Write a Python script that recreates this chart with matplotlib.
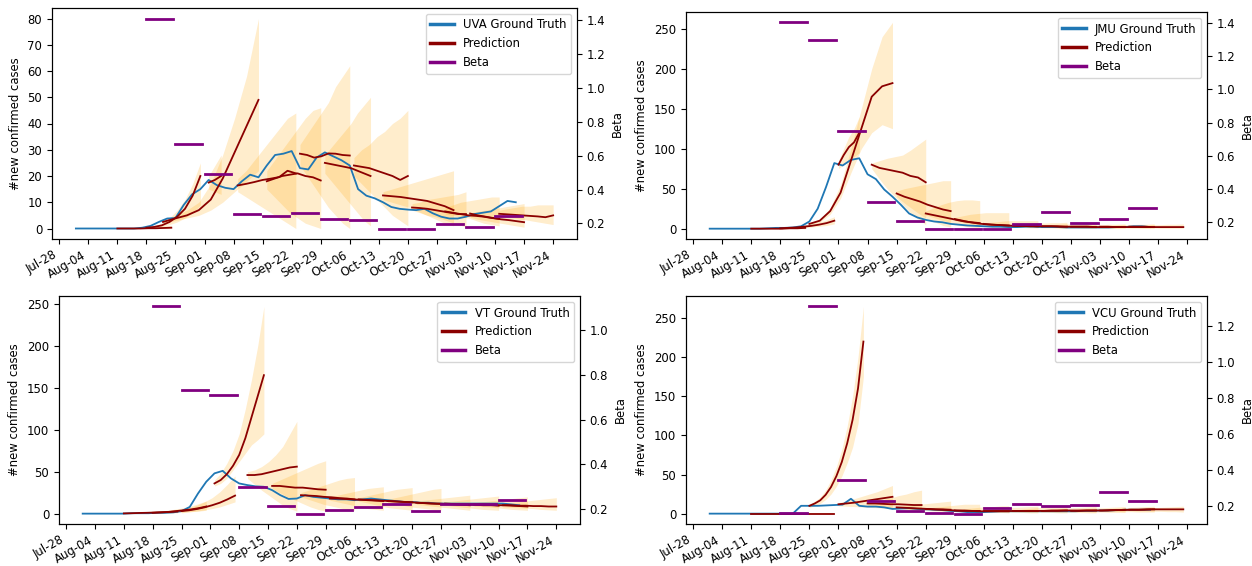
import numpy as np
import pandas as pd
import matplotlib
matplotlib.use('Agg')
import matplotlib.pyplot as plt
import matplotlib.dates as mdates
from matplotlib.lines import Line2D

YEAR = '2020-'
GT_START = '2020-08-01'   # ground truth values are every 2 days from here

# beta is one value per week, same weeks for all four schools
beta_start = ['08-18', '08-25', '09-01', '09-08', '09-15', '09-22', '09-29',
              '10-06', '10-13', '10-20', '10-27', '11-03', '11-10']

# ---------------- UVA ----------------
uva_gt = [0, 0, 0, 0, 0, 0, 0, 0, 0.3,
          1, 2.5, 3.8, 4, 9, 13, 15,
          18.5, 16.5, 15.5, 15, 18, 20.5, 19.5, 24, 28, 28.5, 29.5, 23, 22.5, 27, 29,
          27.5, 26, 24, 15, 12.5, 11.5, 10, 8.2, 7.5, 7.2, 7, 7.5, 5.8, 4.5, 3.8,
          3.8, 4.5, 5.5, 6, 6.5, 8.5, 10.5, 10]
uva_pred_start = ['08-11', '08-18', '08-22', '09-02', '09-09', '09-16', '09-24',
                  '09-30', '10-07', '10-14', '10-21', '10-29', '11-04', '11-11']
uva_pred_end = ['08-24', '08-31', '09-14', '09-05', '09-23', '09-29', '10-06',
                '10-11', '10-20', '10-31', '11-03', '11-11', '11-17', '11-24']
uva_pred = [
    [0, 0, 0, 0, 0.1, 0.1, 0.2, 0.3],
    [0.3, 0.6, 1.2, 2.5, 4.5, 7.5, 12.5, 20],
    [2.5, 3.8, 5, 7, 11, 19, 29, 39, 49],
    [17.5, 18.5, 20],
    [16.4, 17, 17.7, 18.5, 19, 19.6, 22, 21],
    [18, 19, 20, 20.5, 21, 20, 19.5, 18.3],
    [28.5, 28, 27, 27.5, 28.6, 28.5, 28, 27.8],
    [25, 24.5, 24, 23.5, 23, 22, 21, 20],
    [24, 23.5, 23, 22, 21, 20, 18.5, 20],
    [12.6, 12.3, 12, 11.5, 11, 10.5, 9.5, 8.5, 7],
    [8, 7.8, 7.5, 7, 6.5, 6, 5.5, 5.5],
    [6.5, 6, 5.5, 5, 4.8, 4.5, 4, 3.7],
    [5.7, 5, 4.5, 4, 3.5, 3.2, 2.8, 2.4],
    [5.6, 5.4, 5.2, 5, 4.8, 4.6, 4.3, 5],
]
uva_lo = [
    [0, 0, 0, 0, 0, 0, 0.1, 0.2],
    [0.2, 0.4, 0.8, 1.5, 2.5, 4, 6, 9],
    [2, 3, 4, 5, 7, 10, 14, 18, 22],
    [15, 14, 13],
    [14, 12, 10, 8, 6, 4, 2, 0],
    [15, 12, 9, 6, 4, 2, 1, 0],
    [24, 20, 16, 12, 8, 5, 2, 0],
    [21, 18, 15, 12, 9, 6, 3, 1],
    [20, 17, 14, 11, 8, 5, 3, 1],
    [11, 10, 9, 8, 6.5, 5, 3.5, 2, 1],
    [7, 6, 5, 4.5, 3.5, 2.5, 1.5, 0.5],
    [5.5, 5, 4.5, 4, 3, 2, 1.5, 1],
    [4.3, 3.5, 3, 2.5, 2, 1.5, 1, 0.5],
    [5, 4.5, 4, 3.5, 3, 2.5, 2, 1.5],
]
uva_hi = [
    [0.2, 0.3, 0.4, 0.5, 0.6, 0.8, 1, 1.2],
    [0.5, 1, 2, 4, 7, 11, 17, 25],
    [3, 5, 7, 10, 17, 28, 42, 58, 80],
    [20, 24, 28],
    [19, 22, 26, 30, 34, 38, 42, 44],
    [22, 26, 30, 34, 38, 42, 45, 46],
    [32, 36, 40, 44, 48, 54, 58, 62],
    [28, 31, 34, 37, 40, 44, 47, 50],
    [27, 30, 32, 35, 37, 40, 42, 45],
    [14, 15, 16, 17, 18, 19, 20, 21, 22],
    [9.5, 10, 11, 11.5, 12, 12.5, 13, 14],
    [8, 9, 10, 10.5, 11, 11.5, 12, 12],
    [6, 6.5, 7, 7.5, 8, 8.5, 9, 9.5],
    [7, 7.5, 8, 8.5, 8.5, 9, 9, 9],
]
uva_beta = [1.41, 0.668, 0.49, 0.258, 0.246, 0.264, 0.227, 0.22, 0.17, 0.17, 0.194, 0.176, 0.245]

# ---------------- JMU ----------------
jmu_gt = [0, 0, 0, 0, 0, 0, 0, 0.5, 1, 1, 1.5,
          3, 9, 25, 52, 82,
          79, 86, 88, 68, 62, 49, 40, 30, 19, 14, 11, 9, 8, 6, 5,
          4, 3.5, 3, 2.5, 2.5, 2, 2, 2.5, 2.5, 2, 2, 2, 1.5, 1.5, 1.5,
          1.5, 1.5, 1.5, 2, 2, 3, 3, 2]
jmu_pred_start = ['08-11', '08-18', '08-25', '09-01', '09-09', '09-15', '09-22',
                  '09-29', '10-06', '10-13', '10-20', '10-27', '11-03', '11-10']
jmu_pred_end = ['08-24', '08-31', '09-14', '09-06', '09-22', '09-28', '10-05',
                '10-12', '10-19', '10-26', '11-02', '11-09', '11-16', '11-23']
jmu_pred = [
    [0, 0, 0, 0, 0, 0.5, 0.5, 1],
    [0.5, 1, 1.5, 2.5, 3.5, 5, 7, 10],
    [6, 10, 22, 45, 85, 125, 165, 178, 182],
    [80, 92, 102, 108, 120],
    [80, 76, 74, 72, 70, 66, 64, 58],
    [44, 40, 37, 34, 30, 27, 24, 22],
    [19, 17, 15, 13, 11, 9, 8, 7],
    [12, 10, 8, 6.5, 5.5, 5, 4.5, 4],
    [6, 5, 4.5, 4, 3.5, 3.5, 3, 3],
    [4, 3.5, 3.5, 3, 3, 3, 2.5, 2.5],
    [3, 3, 3, 2.5, 2.5, 2.5, 2.5, 2],
    [2.5, 2.5, 2.5, 2, 2, 2, 2, 2],
    [2.5, 2.5, 2, 2, 2, 2, 2, 2],
    [2.5, 2.5, 2.5, 2, 2, 2, 2, 2],
]
jmu_lo = [
    [0, 0, 0, 0, 0, 0, 0, 0],
    [0.3, 0.6, 1, 1.5, 2, 3, 4, 6],
    [5, 8, 18, 38, 70, 100, 120, 130, 125],
    [75, 80, 85, 90, 95],
    [75, 62, 50, 40, 30, 20, 12, 5],
    [40, 32, 25, 18, 12, 8, 4, 2],
    [17, 14, 11, 8, 5, 3, 2, 1],
    [10, 8, 6, 4, 3, 2, 1.5, 1],
    [5, 4, 3, 2.5, 2, 1.5, 1, 1],
    [3, 2.5, 2, 1.5, 1, 1, 0.5, 0.5],
    [2.5, 2, 1.5, 1, 1, 0.5, 0.5, 0.5],
    [2, 1.5, 1, 1, 0.5, 0.5, 0.5, 0.5],
    [2, 1.5, 1, 1, 0.5, 0.5, 0.5, 0.5],
    [2, 1.5, 1, 1, 0.5, 0.5, 0.5, 0.5],
]
jmu_hi = [
    [0.5, 0.5, 1, 1, 1, 1.5, 1.5, 2],
    [1, 1.5, 2.5, 4, 6, 8, 11, 15],
    [7, 12, 26, 55, 100, 150, 200, 240, 258],
    [85, 100, 115, 125, 140],
    [82, 85, 88, 90, 92, 98, 105, 112],
    [47, 50, 52, 54, 56, 58, 60, 60],
    [22, 26, 30, 33, 35, 36, 36, 35],
    [14, 16, 18, 19, 20, 20, 20, 20],
    [7, 8, 9, 10, 10, 10, 10, 10],
    [5, 6, 6.5, 7, 7, 7.5, 7.5, 8],
    [4, 5, 5.5, 6, 6, 6.5, 6.5, 7],
    [3.5, 4, 4.5, 5, 5, 5.5, 5.5, 6],
    [3.5, 4, 4.5, 5, 5, 5.5, 5.5, 6],
    [3.5, 4, 4.5, 5, 5, 5.5, 5.5, 6],
]
jmu_beta = [1.404, 1.296, 0.746, 0.32, 0.206, 0.16, 0.16, 0.16, 0.186, 0.258, 0.194, 0.22, 0.286]

# ---------------- VT ----------------
vt_gt = [0, 0, 0, 0, 0, 0, 0.5, 0.5, 0.5, 1, 1, 1.5,
         3, 8, 24, 38,
         48, 51, 42, 36, 34, 32.5, 32, 28, 22, 17.5, 18, 22, 20, 19, 18,
         17, 17, 16, 17, 18, 17, 16, 15, 14, 14, 13, 13, 12, 12, 12,
         12, 12, 12, 12, 12, 12, 11, 10]
vt_pred_start = ['08-11', '08-18', '08-25', '09-02', '09-10', '09-16', '09-23',
                 '09-30', '10-07', '10-14', '10-21', '10-28', '11-04', '11-11']
vt_pred_end = ['08-24', '08-31', '09-07', '09-14', '09-22', '09-29', '10-06',
               '10-13', '10-20', '10-27', '11-03', '11-10', '11-17', '11-24']
vt_pred = [
    [0.3, 0.5, 0.8, 1, 1.3, 1.6, 2, 2.5],
    [1, 1.5, 2, 3, 4, 5, 6.5, 8.5],
    [3, 4, 5.5, 7.5, 10, 13, 17, 21.5],
    [36, 40, 47, 57, 70, 90, 115, 140, 165],
    [46, 46, 47, 49, 51, 53, 55, 56],
    [33, 33, 32, 31, 31, 30, 29, 28.5],
    [22, 21.5, 21, 20, 19.5, 18.5, 18, 17],
    [18, 18, 17.5, 17, 16.5, 16, 15.5, 15],
    [17, 16.5, 16, 15.5, 15, 14.5, 14, 13.5],
    [15, 14.5, 14, 13.5, 13, 12.5, 12, 11.5],
    [13, 12.5, 12, 12, 11.5, 11, 10.5, 10],
    [12, 11.5, 11, 11, 10.5, 10, 10, 9.5],
    [11, 11, 10.5, 10, 10, 9.5, 9, 8.5],
    [10, 10, 9.5, 9.5, 9, 9, 8.5, 8.5],
]
vt_lo = [
    [0, 0, 0.2, 0.3, 0.5, 0.6, 0.8, 1],
    [0.5, 0.8, 1, 1.5, 2, 2.5, 3, 4],
    [1, 2, 3, 4.5, 6, 8, 11, 14],
    [33, 36, 42, 52, 62, 72, 82, 88, 95],
    [42, 35, 28, 22, 16, 10, 6, 3],
    [30, 25, 20, 16, 12, 8, 5, 3],
    [20, 17, 14, 11, 9, 7, 5, 4],
    [16, 14, 12, 10, 8, 6, 5, 4],
    [15, 13, 11, 9, 7, 6, 5, 4],
    [13, 12, 10, 8, 7, 6, 5, 4],
    [11, 10, 9, 8, 7, 6, 5, 4],
    [10, 9, 8, 7, 6, 5, 4.5, 4],
    [9, 8.5, 8, 7, 6, 5, 4.5, 4],
    [8, 7.5, 7, 6.5, 6, 5, 4.5, 4],
]
vt_hi = [
    [1, 1.5, 2, 2.5, 3, 3.5, 4, 5],
    [2, 3, 4, 5.5, 7, 9, 12, 15],
    [5, 7, 10, 14, 19, 26, 35, 45],
    [40, 48, 60, 75, 95, 125, 160, 200, 247],
    [50, 52, 56, 62, 70, 80, 95, 110],
    [36, 40, 44, 48, 52, 56, 60, 63],
    [25, 28, 31, 34, 37, 40, 42, 43],
    [20, 22, 24, 26, 28, 30, 31, 32],
    [19, 21, 23, 25, 27, 29, 30, 31],
    [17, 19, 21, 23, 25, 27, 29, 30],
    [15, 16, 17, 18, 19, 20, 21, 22],
    [14, 15, 16, 17, 18, 19, 20, 21],
    [13, 14, 15, 16, 17, 18, 19, 20],
    [12, 13, 14, 15, 16, 17, 18, 19],
]
vt_beta = [1.106, 0.73, 0.709, 0.30, 0.212, 0.179, 0.197, 0.21, 0.22, 0.19, 0.22, 0.22, 0.24]

# ---------------- VCU ----------------
vcu_gt = [0, 0, 0, 0, 0, 0, 0, 0, 0, 0, 0,
          10, 10, 10, 10.5, 11,
          11.5, 19, 10, 9, 9, 8, 6, 6.5, 7, 6, 5.5, 5, 4.5, 3.5, 3,
          2, 2, 2, 2.5, 3, 3, 3, 3, 3, 3, 3, 3, 3, 3, 3.5,
          3.5, 4, 4, 4.5, 5, 5, 5, 5]
vcu_pred_start = ['08-11', '08-18', '08-25', '09-01', '09-08', '09-15', '09-22',
                  '09-29', '10-06', '10-13', '10-20', '10-27', '11-03', '11-10']
vcu_pred_end = ['08-24', '08-31', '09-07', '09-14', '09-21', '09-28', '10-05',
                '10-12', '10-19', '10-26', '11-02', '11-09', '11-16', '11-23']
vcu_pred = [
    [0, 0, 0, 0, 0, 0, 0, 0],
    [0, 0, 0, 0, 0, 0, 0, 0],
    [10, 13, 17, 24, 34, 48, 66, 90, 120, 160, 220],
    [12, 13, 14, 15.5, 17, 18.5, 20, 21.5],
    [13, 13, 12.5, 12, 12, 11.5, 11, 11],
    [8, 7.5, 7, 6.5, 6, 5.5, 5.5, 5],
    [6, 5.5, 5, 4.5, 4, 4, 3.5, 3.5],
    [4, 3.5, 3.5, 3, 3, 3, 3, 3],
    [3.5, 3.5, 3.5, 3.5, 3.5, 3.5, 3.5, 3.5],
    [3.5, 3.5, 3.5, 3.5, 3.5, 4, 4, 4],
    [3.5, 3.5, 3.5, 4, 4, 4, 4, 4],
    [3.5, 3.5, 4, 4, 4, 4.5, 4.5, 5],
    [4, 4, 4.5, 4.5, 5, 5, 5.5, 5.5],
    [5, 5, 5, 5.5, 5.5, 5.5, 5.5, 5.5],
]
vcu_lo = [
    [0, 0, 0, 0, 0, 0, 0, 0],
    [0, 0, 0, 0, 0, 0, 0, 0],
    [8, 10, 13, 18, 25, 35, 48, 65, 85, 115, 175],
    [10, 9.5, 9, 8.5, 8, 7.5, 7, 6.5],
    [11, 10, 9, 8, 7, 6, 5, 4],
    [7, 6, 5, 4.5, 4, 3.5, 3, 2.5],
    [5, 4.5, 4, 3.5, 3, 2.5, 2, 2],
    [3.5, 3, 2.5, 2, 2, 1.5, 1.5, 1],
    [3, 2.5, 2, 2, 1.5, 1.5, 1, 1],
    [3, 2.5, 2, 2, 1.5, 1.5, 1, 1],
    [3, 2.5, 2, 2, 1.5, 1.5, 1, 1],
    [3, 2.5, 2.5, 2, 2, 1.5, 1.5, 1.5],
    [3.5, 3, 3, 2.5, 2.5, 2, 2, 2],
    [4, 3.5, 3.5, 3, 3, 2.5, 2.5, 2],
]
vcu_hi = [
    [0.5, 0.5, 0.5, 0.5, 0.5, 0.5, 0.5, 0.5],
    [0.5, 0.5, 0.5, 0.5, 0.5, 0.5, 0.5, 0.5],
    [12, 16, 21, 30, 43, 60, 82, 112, 150, 200, 265],
    [14, 16, 19, 22, 25, 28, 32, 36],
    [14, 16, 18, 20, 23, 25, 28, 30],
    [9, 10, 11, 12, 13, 14, 15, 16],
    [7, 8, 9, 10, 11, 12, 12, 12],
    [5, 6, 7, 8, 9, 9, 10, 10],
    [4.5, 5.5, 6.5, 7.5, 8, 8.5, 9, 9.5],
    [4.5, 5.5, 6.5, 7.5, 8, 8.5, 9, 9.5],
    [4.5, 5.5, 6.5, 7, 7.5, 8, 8.5, 9],
    [4.5, 5.5, 6.5, 7, 7.5, 8, 8.5, 9],
    [5, 6, 7, 7.5, 8, 8.5, 9, 9.5],
    [6, 6.5, 7, 7.5, 8, 8.5, 9, 9.5],
]
vcu_beta = [0.16, 1.308, 0.344, 0.224, 0.169, 0.16, 0.155, 0.187, 0.21, 0.197, 0.205, 0.274, 0.228]

W, H = 1252, 566
panels = [
    ('UVA', (52, 8, 577, 239), uva_gt, uva_pred_start, uva_pred_end, uva_pred, uva_lo, uva_hi, uva_beta),
    ('JMU', (686, 12, 1207, 239), jmu_gt, jmu_pred_start, jmu_pred_end, jmu_pred, jmu_lo, jmu_hi, jmu_beta),
    ('VT', (59, 296, 580, 524), vt_gt, vt_pred_start, vt_pred_end, vt_pred, vt_lo, vt_hi, vt_beta),
    ('VCU', (686, 296, 1207, 524), vcu_gt, vcu_pred_start, vcu_pred_end, vcu_pred, vcu_lo, vcu_hi, vcu_beta),
]

GT_C = '#1f77b4'
PRED_C = 'darkred'
BETA_C = 'purple'
FS = 8.4

fig = plt.figure(figsize=(W / 100, H / 100), dpi=100)
week_ticks = pd.date_range('2020-07-28', '2020-11-24', freq='7D')

for name, (x0, y0, x1, y1), gt, p_start, p_end, pred, lo, hi, beta in panels:
    ax = fig.add_axes([x0 / W, 1 - y1 / H, (x1 - x0) / W, (y1 - y0) / H])
    ax2 = ax.twinx()

    # uncertainty band of every weekly forecast
    for s, e, v, l, h in zip(p_start, p_end, pred, lo, hi):
        x = pd.date_range(YEAR + s, YEAR + e, periods=len(v))
        ax.fill_between(x, l, h, color='orange', alpha=0.2, linewidth=0)

    gt_x = pd.date_range(GT_START, periods=len(gt), freq='2D')
    ax.plot(gt_x, gt, color=GT_C, lw=1.3)

    for s, e, v in zip(p_start, p_end, pred):
        x = pd.date_range(YEAR + s, YEAR + e, periods=len(v))
        ax.plot(x, v, color=PRED_C, lw=1.3)

    for s, b in zip(beta_start, beta):
        t0 = pd.Timestamp(YEAR + s)
        ax2.plot([t0, t0 + pd.Timedelta(days=6.4)], [b, b], color=BETA_C, lw=2)

    ax.set_xticks(week_ticks)
    ax.xaxis.set_major_formatter(mdates.DateFormatter('%b-%d'))
    plt.setp(ax.get_xticklabels(), rotation=30, ha='right', fontsize=FS)
    ax.tick_params(axis='y', labelsize=FS)
    ax2.tick_params(axis='y', labelsize=FS)
    ax.set_ylabel('#new confirmed cases', fontsize=FS)
    ax2.set_ylabel('Beta', fontsize=FS)

    handles = [Line2D([], [], color=GT_C, lw=2.5, label=name + ' Ground Truth'),
               Line2D([], [], color=PRED_C, lw=2.5, label='Prediction'),
               Line2D([], [], color=BETA_C, lw=2.5, label='Beta')]
    ax2.legend(handles=handles, loc='upper right', fontsize=FS)

fig.savefig('out.png', dpi=100)
